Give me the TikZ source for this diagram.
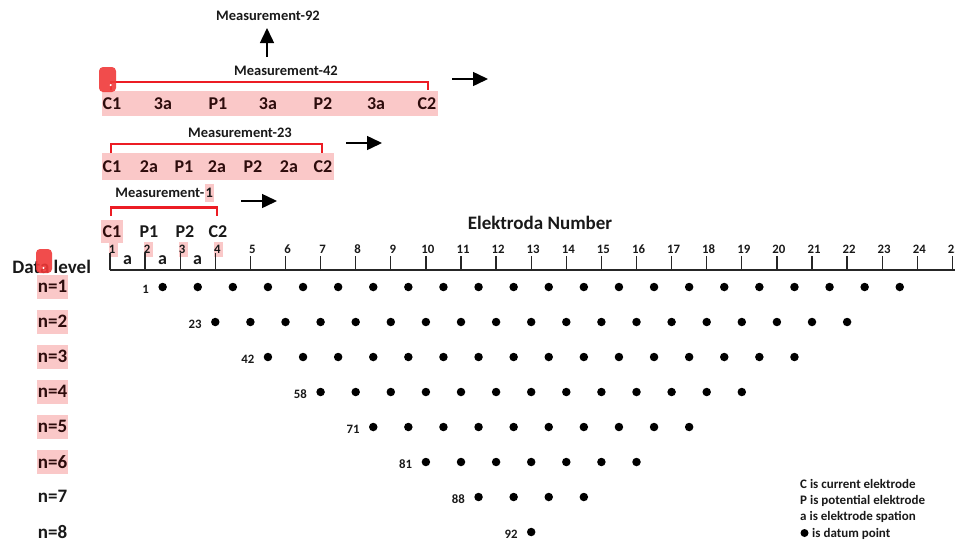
\documentclass[tikz,border=0pt]{standalone}
\usepackage{fontspec}
\setmainfont{Carlito}
\usetikzlibrary{arrows.meta}
\definecolor{hlpink}{RGB}{250,200,200}
\definecolor{brkred}{RGB}{236,28,36}
\definecolor{markred}{RGB}{240,56,56}
\definecolor{ink}{RGB}{45,12,12}
\newcommand\wfont[1]{\fontsize{#1}{#1}\selectfont\bfseries}
% x position of electrode k on the axis
\newcommand\elx[1]{110+35.1*(#1-1)}
\begin{document}
\begin{tikzpicture}[x=1pt,y=-1pt,
  txt/.style={inner sep=0pt, font=\wfont{18}, text=ink},
  plain/.style={inner sep=0pt, font=\wfont{18}, text=black!90},
  mlabel/.style={inner sep=0pt, font=\wfont{14.5}, text=black!90},
  numlbl/.style={inner sep=0pt, font=\wfont{12.8}, text=black!90},
  nlev/.style={inner xsep=1pt, inner ysep=0pt, minimum height=24pt, font=\wfont{19}},
  bracket/.style={draw=brkred, line width=2.2pt},
  arr/.style={line width=1.5pt, -{Triangle[length=15pt,width=14pt]}},
  datum/.style={circle, fill=black, inner sep=0pt, minimum size=8.5pt},
  tickline/.style={line width=1.3pt, draw=black!85},
  axisline/.style={line width=1.6pt, draw=black!85},
  marker/.style={fill=markred, rounded corners=4pt, fill opacity=0.9},
  legend/.style={inner sep=0pt, font=\wfont{13}, anchor=west, text=black!90},
]
\useasboundingbox (0,0) rectangle (955,542);

% ---------- Measurement-92 ----------
\node[mlabel] (m92) at (268,16) {Measurement-92};
\coordinate (up0) at (267,57);
\coordinate (up1) at (267,28);
\draw[arr] (up0) -- (up1);

% ---------- Measurement-42 (spacing 3a) ----------
\node[mlabel] (m42) at (286,71) {Measurement-42};
\fill[hlpink] (102,91) rectangle (438,116);
\foreach \t/\x [count=\i] in {C1/112,3a/163,P1/218,3a/268,P2/323,3a/376,C2/427}
  \node[txt] (r42-\i) at (\x,103.5) {\t};
\coordinate (b42a) at (111,90);
\coordinate (b42b) at (111,82);
\coordinate (b42c) at (428,82);
\coordinate (b42d) at (428,90);
\draw[bracket] (b42a) -- (b42b) -- (b42c) -- (b42d);
\coordinate (a42s) at (452,79);
\coordinate (a42e) at (488,79);
\draw[arr] (a42s) -- (a42e);

% ---------- Measurement-23 (spacing 2a) ----------
\node[mlabel] (m23) at (240,133) {Measurement-23};
\fill[hlpink] (101.7,153.3) rectangle (334,180);
\foreach \t/\x [count=\i] in {C1/112,2a/149,P1/184,2a/217,P2/253,2a/289,C2/323}
  \node[txt] (r23-\i) at (\x,167) {\t};
\coordinate (b23a) at (111,153);
\coordinate (b23b) at (111,144);
\coordinate (b23c) at (322,144);
\coordinate (b23d) at (322,153);
\draw[bracket] (b23a) -- (b23b) -- (b23c) -- (b23d);
\coordinate (a23s) at (346,143);
\coordinate (a23e) at (382,143);
\draw[arr] (a23s) -- (a23e);

% ---------- Measurement-1 (spacing a) ----------
\node[mlabel, anchor=base east] (m1t) at (204.5,197.5) {Measurement-};
\node[mlabel, anchor=base west, fill=hlpink, inner xsep=1pt, minimum height=18pt] (m1n) at (m1t.base east) {1};
\coordinate (b1a) at (111,216);
\coordinate (b1b) at (111,207.5);
\coordinate (b1c) at (217,207.5);
\coordinate (b1d) at (217,216);
\draw[bracket] (b1a) -- (b1b) -- (b1c) -- (b1d);
\coordinate (a1s) at (241,201);
\coordinate (a1e) at (277,201);
\draw[arr] (a1s) -- (a1e);

\node[txt, fill=hlpink, minimum width=22pt, minimum height=23pt] (e1) at (112,231.5) {C1};
\node[plain] (e2) at (149,232) {P1};
\node[plain] (e3) at (185,232) {P2};
\node[plain] (e4) at (218,232) {C2};

% ---------- electrode axis ----------
\node[inner sep=0pt, font=\wfont{19}, text=black!90] (title) at (540,223) {Elektroda Number};
\foreach \k in {1,...,4}
  \fill[hlpink] ({\elx{\k}-1.5},242) rectangle ++(9,15);
\coordinate (axL) at (110,270);
\coordinate (axR) at (962,270);
\draw[axisline] (axL) -- (axR);
\foreach \k in {1,...,25} {
  \pgfmathsetmacro\ttop{\k<5 ? 253 : 256}
  \coordinate (tb\k) at ({\elx{\k}},270);
  \coordinate (tt\k) at ({\elx{\k}},\ttop);
  \draw[tickline] (tb\k) -- (tt\k);
  \node[numlbl] (tn\k) at ({\elx{\k}+2},249) {\k};
}
\foreach \x [count=\i] in {127.5,162.5,197.5}
  \node[plain] (sp\i) at (\x,260) {a};

% ---------- data levels ----------
\node[inner sep=0pt, font=\wfont{19}, text=black!90] (dl) at (51.7,266.5) {Data level};
\foreach \n in {1,...,6}
  \node[nlev, fill=hlpink, text=ink] (lev\n) at (52.5,{286.7+35*(\n-1)}) {n=\n};
\foreach \n in {7,8}
  \node[nlev, text=black!90] (lev\n) at (52.5,{286.7+35*(\n-1)}) {n=\n};

% ---------- datum points ----------
\foreach \n/\lab in {1/1,2/23,3/42,4/58,5/71,6/81,7/88,8/92} {
  \pgfmathsetmacro\yy{287+35*(\n-1)}
  \pgfmathsetmacro\xo{110+52.65*\n}
  \pgfmathtruncatemacro\last{24-3*\n}
  \foreach \j in {0,...,\last}
    \node[datum] (d\n-\j) at ({\xo+35.1*\j},\yy) {};
  \node[numlbl, anchor=east] (lab\n) at ({\xo-13.5},{\yy+2}) {\lab};
}

% ---------- legend ----------
\node[legend] (lg1) at (800,484) {C is current elektrode};
\node[legend] (lg2) at (800,500.5) {P is potential elektrode};
\node[legend] (lg3) at (800,516.5) {a is elektrode spation};
\node[datum, minimum size=8pt] (lg4d) at (804.5,533) {};
\node[legend] (lg4) at (812,533.5) {is datum point};

% ---------- selection markers ----------
\fill[marker] (99,67) rectangle (116,92);
\fill[white] (110.7,85) circle (1.2);
\fill[marker] (36,249) rectangle (52,273);
\fill[white] (43.5,268) circle (1.2);
\end{tikzpicture}
\end{document}
